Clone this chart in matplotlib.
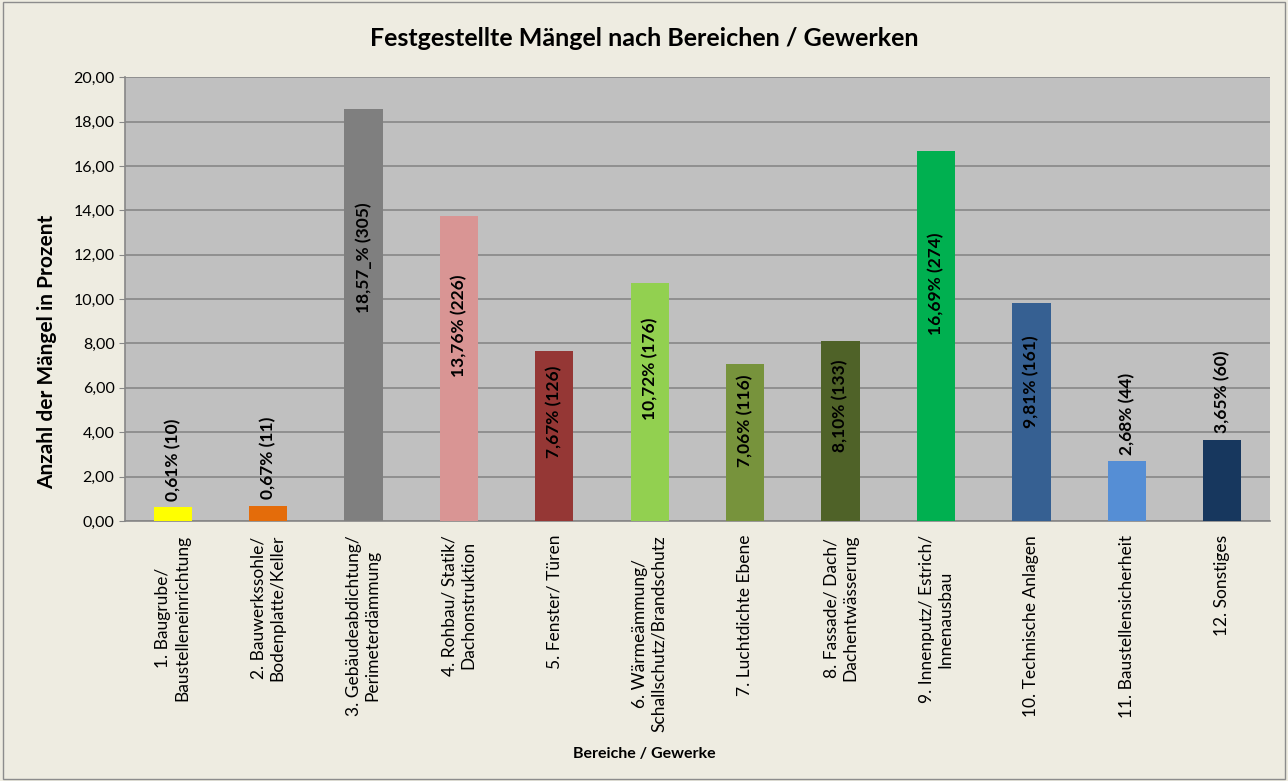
import numpy as np
import matplotlib.pyplot as plt
from matplotlib.patches import Rectangle

plt.rcParams['font.family'] = ['Lato', 'DejaVu Sans']

categories = [
    "1. Baugrube/\nBaustelleneinrichtung",
    "2. Bauwerkssohle/\nBodenplatte/Keller",
    "3. Gebäudeabdichtung/\nPerimeterdämmung",
    "4. Rohbau/ Statik/\nDachonstruktion",
    "5. Fenster/ Türen",
    "6. Wärmeämmung/\nSchallschutz/Brandschutz",
    "7. Luchtdichte Ebene",
    "8. Fassade/ Dach/\nDachentwässerung",
    "9. Innenputz/ Estrich/\nInnenausbau",
    "10. Technische Anlagen",
    "11. Baustellensicherheit",
    "12. Sonstiges",
]
percent = [0.61, 0.67, 18.57, 13.76, 7.67, 10.72, 7.06, 8.10, 16.69, 9.81, 2.68, 3.65]
counts = [10, 11, 305, 226, 126, 176, 116, 133, 274, 161, 44, 60]
bar_labels = ["0,61% (10)", "0,67% (11)", "18,57_% (305)", "13,76% (226)",
              "7,67% (126)", "10,72% (176)", "7,06% (116)", "8,10% (133)",
              "16,69% (274)", "9,81% (161)", "2,68% (44)", "3,65% (60)"]
colors = ["#FFFF00", "#E46C0A", "#7F7F7F", "#D99594", "#953735", "#92D050",
          "#77933C", "#4F6228", "#00B050", "#366092", "#558ED5", "#17375E"]
yticks = np.arange(0, 21, 2)

bg = "#EEECE1"
fig = plt.figure(figsize=(12.88, 7.81), dpi=100, facecolor=bg)
ax = fig.add_axes([0.097, 0.333, 0.889, 0.568])
ax.set_facecolor("#C0C0C0")

x = np.arange(len(categories))
ax.bar(x, percent, width=0.4, color=colors, zorder=3)

for i, (v, lab) in enumerate(zip(percent, bar_labels)):
    if v < 5:
        ax.text(i, v + 0.3, lab, rotation=90, ha='center', va='bottom',
                fontsize=12.5, fontweight='bold', color='black', zorder=4)
    else:
        ax.text(i, v * 0.64, lab, rotation=90, ha='center', va='center',
                fontsize=12.5, fontweight='bold', color='black', zorder=4)

ax.set_xlim(-0.5, len(categories) - 0.5)
ax.set_ylim(0, 20)
ax.set_yticks(yticks)
ax.set_yticklabels([f"{t:.2f}".replace('.', ',') for t in yticks], fontsize=11.5)
ax.yaxis.grid(True, color="#878787", linewidth=1.2, zorder=0)
ax.set_axisbelow(True)

ax.set_xticks(x)
ax.set_xticklabels(categories, rotation=90, fontsize=12.5, ha='center',
                   va='top', multialignment='center')
ax.tick_params(axis='x', length=0, pad=10)
ax.tick_params(axis='y', length=4, color="#878787")

for s in ['top', 'right']:
    ax.spines[s].set_visible(False)
for s in ['left', 'bottom']:
    ax.spines[s].set_color("#878787")
    ax.spines[s].set_linewidth(1.2)

ax.set_ylabel("Anzahl der Mängel in Prozent", fontsize=15, fontweight='bold')
ax.yaxis.set_label_coords(-0.059, 0.38)
fig.text(0.5, 0.034, "Bereiche / Gewerke", ha='center', va='center',
         fontsize=11.5, fontweight='bold')
fig.text(0.5, 0.951, "Festgestellte Mängel nach Bereichen / Gewerken", ha='center',
         va='center', fontsize=18, fontweight='bold')

fig.patches.append(Rectangle((0.002, 0.003), 0.996, 0.994, transform=fig.transFigure,
                             fill=False, edgecolor="#8C8C8C", linewidth=1))

fig.savefig("out.png", dpi=100, facecolor=bg)
